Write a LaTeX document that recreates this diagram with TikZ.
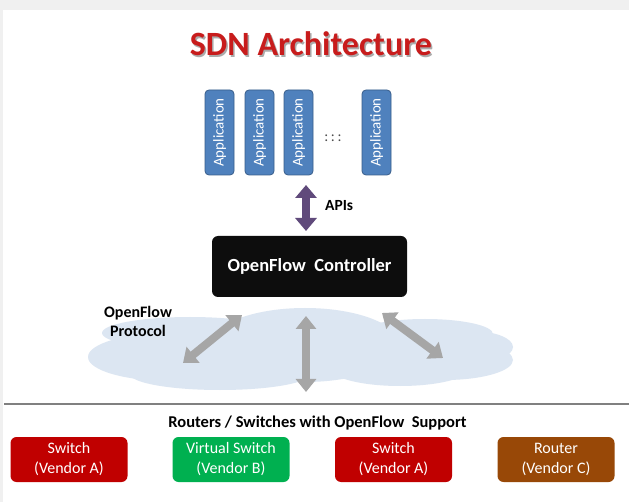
\documentclass[tikz,border=0pt]{standalone}
\usepackage{fontspec}
\setmainfont{Carlito}
\usetikzlibrary{arrows.meta}
\definecolor{bggray}{RGB}{240,240,240}
\definecolor{titlered}{RGB}{200,28,28}
\definecolor{appblue}{RGB}{79,129,189}
\definecolor{appborder}{RGB}{56,93,138}
\definecolor{apipurple}{RGB}{96,74,123}
\definecolor{cloudblue}{RGB}{220,230,242}
\definecolor{arrgray}{RGB}{166,166,166}
\definecolor{sepgray}{RGB}{128,128,128}
\definecolor{boxred}{RGB}{192,0,0}
\definecolor{boxgreen}{RGB}{0,176,80}
\definecolor{boxbrown}{RGB}{152,72,7}
\definecolor{ctrlblack}{RGB}{13,13,13}
\tikzset{
  appbox/.style={draw=appborder, line width=0.8pt, fill=appblue, rounded corners=4pt,
    rotate=90, minimum width=85pt, minimum height=29pt, inner sep=0pt,
    text=white, font=\fontsize{15}{18}\selectfont},
  ctrlbox/.style={fill=ctrlblack, rounded corners=6pt, minimum width=195pt, minimum height=61pt,
    inner sep=0pt, text=white, font=\bfseries\fontsize{18.5}{21}\selectfont},
  devbox/.style={rounded corners=6pt, minimum width=117pt, minimum height=45pt, inner sep=0pt,
    text=white, align=center, font=\fontsize{16}{20}\selectfont},
  blabel/.style={font=\bfseries\fontsize{16}{19}\selectfont, align=center, inner sep=0pt},
  garrow/.style={draw=arrgray, line width=8pt,
    {Triangle[length=13pt,width=20pt]}-{Triangle[length=13pt,width=20pt]}},
  parrow/.style={draw=apipurple, line width=8pt,
    {Triangle[length=13pt,width=21pt]}-{Triangle[length=13pt,width=21pt]}},
  cloudpart/.style={fill=cloudblue}
}
\begin{document}
\begin{tikzpicture}[x=1pt,y=-1pt]
\useasboundingbox (0,0) rectangle (629,502);
\fill[bggray] (0,0) rectangle (629,502);
\fill[white] (3,10) rectangle (629,502);

% title
\node[text=black!60, opacity=0.55, font=\bfseries\fontsize{34}{40}\selectfont] at (312.5,45.5) {SDN Architecture};
\node[text=titlered, font=\bfseries\fontsize{34}{40}\selectfont] (title) at (311,44) {SDN Architecture};

% applications
\node[appbox] (app1) at (219.5,132.5) {Application};
\node[appbox] (app2) at (259.5,132.5) {Application};
\node[appbox] (app3) at (298.5,132.5) {Application};
\node[appbox] (app4) at (376.5,132.5) {Application};
\node[font=\fontsize{15}{16}\selectfont, text=black!70] (dots) at (333,138) {:\,:\,:};

% controller
\node[ctrlbox] (ctrl) at (309.5,266.5) {OpenFlow\ \ Controller};

% API arrow
\coordinate (apitop) at (306,185);
\coordinate (apibot) at (306,231);
\draw[parrow] (apitop) -- (apibot);
\node[blabel, anchor=west, font=\bfseries\fontsize{15.5}{19}\selectfont] (apis) at (325,206) {APIs};

% cloud
\fill[cloudpart] (170,357) ellipse [x radius=82, y radius=24];
\fill[cloudpart] (190,333) ellipse [x radius=88, y radius=16];
\fill[cloudpart] (305,345) ellipse [x radius=95, y radius=37];
\fill[cloudpart] (425,334) ellipse [x radius=68, y radius=15];
\fill[cloudpart] (445,360) ellipse [x radius=68, y radius=20];
\fill[cloudpart] (220,374) ellipse [x radius=90, y radius=16];
\fill[cloudpart] (400,368) ellipse [x radius=70, y radius=18];
\fill[cloudpart] (472,347) ellipse [x radius=41, y radius=16];

\node[blabel] (ofp) at (138,321.5) {OpenFlow\\Protocol};

% protocol arrows
\coordinate (l1) at (242,315);
\coordinate (l2) at (183,363);
\coordinate (m1) at (306,316);
\coordinate (m2) at (306,392);
\coordinate (r1) at (382,313);
\coordinate (r2) at (443,358);
\draw[garrow] (l1) -- (l2);
\draw[garrow] (m1) -- (m2);
\draw[garrow] (r1) -- (r2);

% separator
\coordinate (sepL) at (4,404);
\coordinate (sepR) at (629,404);
\draw[sepgray, line width=1.5pt] (sepL) -- (sepR);

\node[font=\bfseries\fontsize{16.5}{18}\selectfont] (routers) at (317.5,423) {Routers / Switches with OpenFlow\ \ Support};

% devices
\node[devbox, fill=boxred] (d1) at (69,459.5) {Switch\\(Vendor A)};
\node[devbox, fill=boxgreen] (d2) at (231,459.5) {Virtual Switch\\(Vendor B)};
\node[devbox, fill=boxred] (d3) at (393.5,459.5) {Switch\\(Vendor A)};
\node[devbox, fill=boxbrown] (d4) at (556,459.5) {Router\\(Vendor C)};
\end{tikzpicture}
\end{document}
